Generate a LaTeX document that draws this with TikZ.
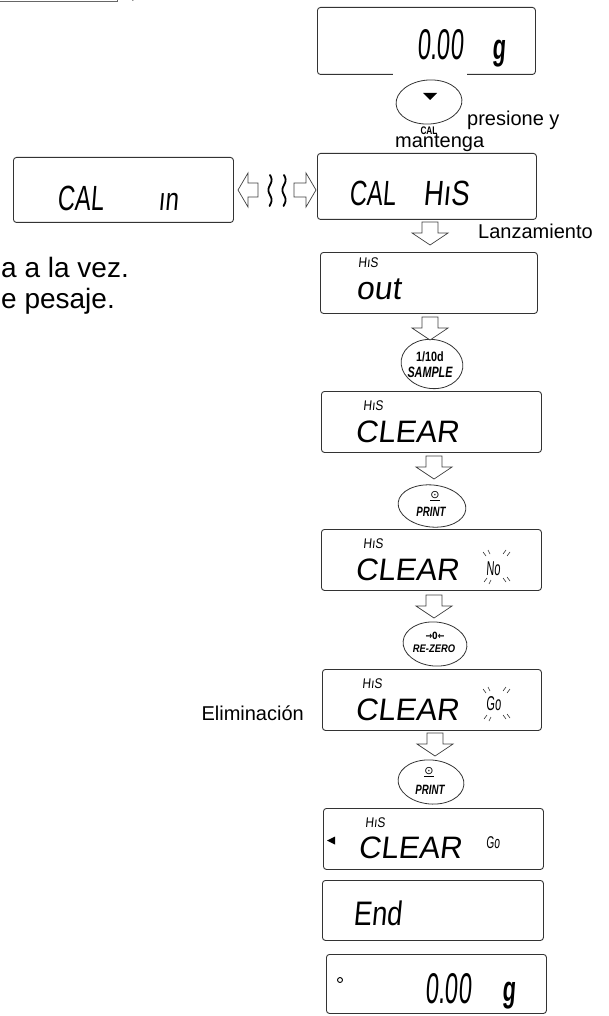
\documentclass[tikz,border=0pt]{standalone}
\usepackage{graphicx}
\usepackage{fontspec}
\setmainfont{Liberation Sans}
\newfontfamily\lcdf[FakeSlant=0.12]{Liberation Sans}
\newfontfamily\djv{DejaVu Sans}
\usetikzlibrary{shapes.geometric}
\newcommand\hsx[2]{\scalebox{#1}[1]{#2}}
\tikzset{
  lcdbox/.style={draw=black!80, line width=0.9pt, rounded corners=3pt, inner sep=0pt, anchor=north west},
  btn/.style={draw=black!80, line width=0.8pt, ellipse, inner sep=0pt},
  lbl/.style={font=\fontsize{20}{23}\selectfont, inner sep=0pt, anchor=base west},
  bigl/.style={font=\fontsize{28}{31}\selectfont, inner sep=0pt, anchor=base west},
  lcd/.style={inner sep=0pt, anchor=base west},
  keyt/.style={inner sep=0pt, font=\bfseries},
  harr/.style={draw=black!75, line width=0.7pt, fill=white, line join=miter},
  blink/.style={draw=black!80, line width=0.6pt},
  hdown/.pic={\path[harr] (-8,0) -- (8,0) -- (8,11) -- (18,11) -- (0,23) -- (-18,11) -- (-8,11) -- cycle;},
  hleft/.pic={\path[harr] (0,0) -- (10,-17) -- (10,-7) -- (20,-7) -- (20,7) -- (10,7) -- (10,17) -- cycle;},
  hright/.pic={\path[harr] (0,0) -- (-10,-17) -- (-10,-7) -- (-22,-7) -- (-22,7) -- (-10,7) -- (-10,17) -- cycle;}
}
\begin{document}
\begin{tikzpicture}[x=1pt,y=-1pt]
\useasboundingbox (0,0) rectangle (609,1016);
% fragment at top left
\draw[black!60, line width=0.6pt] (0,1) -- (117,1) -- (117,-1);
\node[inner sep=0pt, anchor=north, font=\fontsize{14}{14}\selectfont] (frag) at (133,-2) {,};
% ---------- boxes ----------
\node[lcdbox, minimum width=218, minimum height=67] (top) at (317,7) {};
\fill[white] (393,71) rectangle (467,78);
\node[lcdbox, minimum width=219, minimum height=66] (calhis) at (317,153) {};
\node[lcdbox, minimum width=220, minimum height=65] (calin) at (13,157) {};
\node[lcdbox, minimum width=217, minimum height=61] (outb) at (320,252) {};
\node[lcdbox, minimum width=220, minimum height=61] (clr1) at (321,391) {};
\node[lcdbox, minimum width=220, minimum height=61] (clr2) at (321,529) {};
\node[lcdbox, minimum width=219, minimum height=61] (clr3) at (322,669) {};
\node[lcdbox, minimum width=220, minimum height=61] (clr4) at (323,808) {};
\node[lcdbox, minimum width=221, minimum height=60] (endb) at (322,880) {};
\node[lcdbox, minimum width=220, minimum height=59] (fin) at (326,954) {};
% ---------- LCD texts ----------
\node[lcd] (t0a) at (417,60) {\lcdf\fontsize{43}{43}\selectfont\hsx{0.55}{0.00}};
\node[lcd] (t0b) at (492,60) {\lcdf\bfseries\fontsize{36}{36}\selectfont\hsx{0.6}{g}};
\node[lcd] (tca) at (349,206) {\lcdf\fontsize{35}{35}\selectfont\hsx{0.68}{CAL}};
\node[lcd] (tcb) at (423,206) {\lcdf\fontsize{35}{35}\selectfont\hsx{0.78}{HıS}};
\node[lcd] (tia) at (57,211) {\lcdf\fontsize{35}{35}\selectfont\hsx{0.68}{CAL}};
\node[lcd] (tib) at (158,211) {\lcdf\fontsize{32}{32}\selectfont\hsx{0.75}{ın}};
\node[lcd] (toh) at (358,267) {\lcdf\fontsize{14}{14}\selectfont\hsx{0.85}{HıS}};
\node[lcd] (too) at (356,299) {\lcdf\fontsize{32}{32}\selectfont out};
\node[lcd] (c1h) at (363,410) {\lcdf\fontsize{14}{14}\selectfont\hsx{0.85}{HıS}};
\node[lcd] (c1c) at (355,442) {\lcdf\fontsize{31}{31}\selectfont CLEAR};
\node[lcd] (c2h) at (363,548) {\lcdf\fontsize{14}{14}\selectfont\hsx{0.85}{HıS}};
\node[lcd] (c2c) at (355,580) {\lcdf\fontsize{31}{31}\selectfont CLEAR};
\node[lcd] (c2n) at (486,575) {\lcdf\fontsize{20}{20}\selectfont\hsx{0.55}{No}};
\node[lcd] (c3h) at (362,688) {\lcdf\fontsize{14}{14}\selectfont\hsx{0.85}{HıS}};
\node[lcd] (c3c) at (355,720) {\lcdf\fontsize{31}{31}\selectfont CLEAR};
\node[lcd] (c3g) at (486,710) {\lcdf\fontsize{20}{20}\selectfont\hsx{0.55}{Go}};
\node[lcd] (c4h) at (365,827) {\lcdf\fontsize{14}{14}\selectfont\hsx{0.85}{HıS}};
\node[lcd] (c4c) at (358,858) {\lcdf\fontsize{31}{31}\selectfont CLEAR};
\node[lcd] (c4g) at (486,848) {\lcdf\fontsize{17}{17}\selectfont\hsx{0.6}{Go}};
\fill[black] (327,840.5) -- (335,836.5) -- (335,844.5) -- cycle;
\node[lcd] (te) at (353,925) {\lcdf\fontsize{34}{34}\selectfont\hsx{0.8}{End}};
\draw[black, line width=0.9pt] (340,980) circle (2.5);
\node[lcd] (tfa) at (425,1003) {\lcdf\fontsize{43}{43}\selectfont\hsx{0.55}{0.00}};
\node[lcd] (tfb) at (502,1001) {\lcdf\bfseries\fontsize{36}{36}\selectfont\hsx{0.6}{g}};
% blink marks
\foreach \cx/\cy in {497/566, 497/703}{
  \draw[blink] (\cx-14,\cy-14) -- (\cx-11,\cy-10);
  \draw[blink] (\cx-9,\cy-16) -- (\cx-7,\cy-12);
  \draw[blink] (\cx+6,\cy-12) -- (\cx+9,\cy-16);
  \draw[blink] (\cx+10,\cy-10) -- (\cx+13,\cy-14);
  \draw[blink] (\cx-13,\cy+16) -- (\cx-10,\cy+12);
  \draw[blink] (\cx-8,\cy+18) -- (\cx-6,\cy+14);
  \draw[blink] (\cx+6,\cy+12) -- (\cx+9,\cy+16);
  \draw[blink] (\cx+10,\cy+11) -- (\cx+13,\cy+15);
}
% ---------- buttons ----------
\node[btn, minimum width=66, minimum height=44, rotate=4] (b1) at (429,102) {};
\fill[black] (423,93) -- (437,93) -- (430,100) -- cycle;
\node[keyt, font=\bfseries\fontsize{11}{11}\selectfont] (b1t) at (429,131) {\hsx{0.75}{CAL}};
\node[btn, minimum width=62, minimum height=49, rotate=-8] (b2) at (432,364) {};
\node[keyt, font=\bfseries\fontsize{13.5}{13.5}\selectfont] (b2a) at (430,357) {\hsx{0.8}{1/10d}};
\node[keyt, font=\bfseries\itshape\fontsize{15}{15}\selectfont] (b2b) at (430,372) {\hsx{0.72}{SAMPLE}};
\node[btn, minimum width=68, minimum height=42, rotate=-6] (b3) at (432,506) {};
\node[keyt, font=\djv\fontsize{11}{11}\selectfont] (b3a) at (435,496) {\underline{⊙}};
\node[keyt, font=\bfseries\itshape\fontsize{13.5}{13.5}\selectfont] (b3b) at (431,512) {\hsx{0.72}{PRINT}};
\node[btn, minimum width=64, minimum height=44, rotate=-5] (b4) at (435,644) {};
\node[keyt, font=\djv\bfseries\fontsize{10}{10}\selectfont] (b4a) at (435,636) {\hsx{0.8}{→0←}};
\node[keyt, font=\bfseries\itshape\fontsize{11}{11}\selectfont] (b4b) at (434,649) {\hsx{0.85}{RE-ZERO}};
\node[btn, minimum width=66, minimum height=44, rotate=-5] (b5) at (431,782) {};
\node[keyt, font=\djv\fontsize{11}{11}\selectfont] (b5a) at (429,772) {\underline{⊙}};
\node[keyt, font=\bfseries\itshape\fontsize{13.5}{13.5}\selectfont] (b5b) at (430,790) {\hsx{0.72}{PRINT}};
% ---------- hollow arrows ----------
\pic (a1) at (430,222) {hdown};
\pic (a2) at (430,317) {hdown};
\pic (a3) at (434,456) {hdown};
\pic (a4) at (434,595) {hdown};
\pic (a5) at (435,733) {hdown};
\pic (al) at (238,190) {hleft};
\pic (ar) at (316,190) {hright};
\draw[black, line width=1.8pt, line cap=round] plot[domain=175:206, samples=40, smooth] ({270+1.6*sin((\x-175)*18)}, \x);
\draw[black, line width=1.8pt, line cap=round] plot[domain=175:206, samples=40, smooth] ({284+1.6*sin((\x-175)*18)}, \x);
% ---------- labels ----------
\node[lbl] (l1) at (467,126) {presione y};
\node[lbl] (l2) at (395,148) {mantenga};
\node[lbl] (l3) at (478,239) {Lanzamiento};
\node[bigl] (l4) at (1,277) {a a la vez.};
\node[bigl] (l5) at (1,308) {e pesaje.};
\node[lbl, anchor=base east] (l6) at (304,720) {Eliminación};
\end{tikzpicture}
\end{document}
